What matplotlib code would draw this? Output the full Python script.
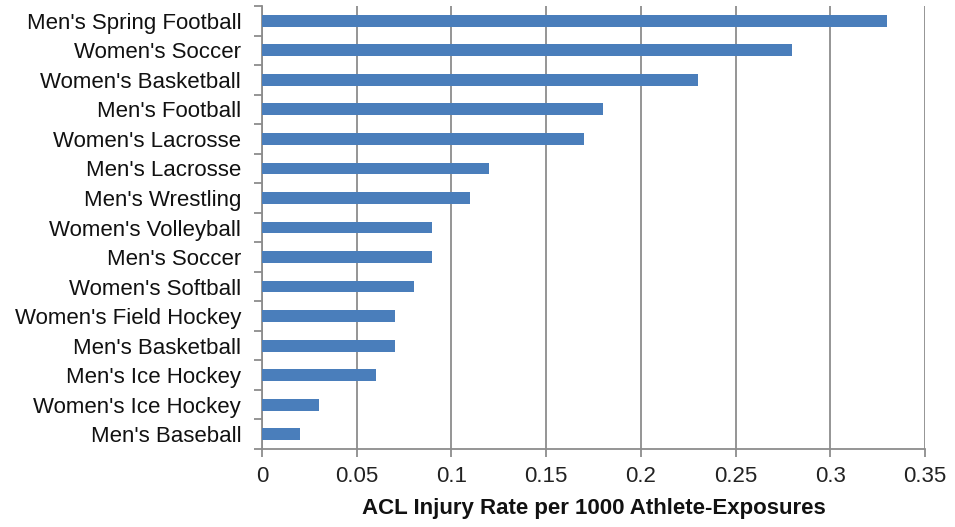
import matplotlib
matplotlib.use("Agg")
import matplotlib.pyplot as plt
import numpy as np

categories = ["Men's Spring Football", "Women's Soccer", "Women's Basketball",
              "Men's Football", "Women's Lacrosse", "Men's Lacrosse",
              "Men's Wrestling", "Women's Volleyball", "Men's Soccer",
              "Women's Softball", "Women's Field Hockey", "Men's Basketball",
              "Men's Ice Hockey", "Women's Ice Hockey", "Men's Baseball"]
values = [0.33, 0.28, 0.23, 0.18, 0.17, 0.12, 0.11, 0.09, 0.09, 0.08,
          0.07, 0.07, 0.06, 0.03, 0.02]
xticks = [0, 0.05, 0.1, 0.15, 0.2, 0.25, 0.3, 0.35]
xticklabels = ["0", "0.05", "0.1", "0.15", "0.2", "0.25", "0.3", "0.35"]

plt.rcParams['font.family'] = ['Liberation Sans', 'DejaVu Sans']

fig = plt.figure(figsize=(9.55, 5.27), dpi=100)
ax = fig.add_axes([262/955, 1-449/527, (925-262)/955, (449-6)/527])

n = len(categories)
ypos = np.arange(n)[::-1]
ax.barh(ypos, values, height=0.4, color='#4A7EBB', zorder=3)

ax.set_xlim(0, 0.35)
ax.set_ylim(-0.5, n - 0.5)
grid_c = '#8C8C8C'
ax.set_xticks(xticks)
ax.set_xticklabels(xticklabels, fontsize=16, color='#222222')
ax.xaxis.grid(True, color=grid_c, linewidth=1.3, zorder=0)
ax.tick_params(axis='x', length=6, width=1.3, color=grid_c, pad=6)

ax.set_yticks(ypos)
ax.set_yticklabels(categories, fontsize=16, color='#111111')
ax.set_yticks(np.arange(-0.5, n, 1.0), minor=True)
ax.tick_params(axis='y', which='major', length=0, pad=15)
ax.tick_params(axis='y', which='minor', length=6, width=1.3, color=grid_c)

for s in ['top', 'right']:
    ax.spines[s].set_visible(False)
for s in ['left', 'bottom']:
    ax.spines[s].set_color(grid_c)
    ax.spines[s].set_linewidth(1.3)

ax.set_xlabel("ACL Injury Rate per 1000 Athlete-Exposures", fontsize=16,
              fontweight='bold', color='#111111', labelpad=8)

fig.savefig("out.png", dpi=100)
